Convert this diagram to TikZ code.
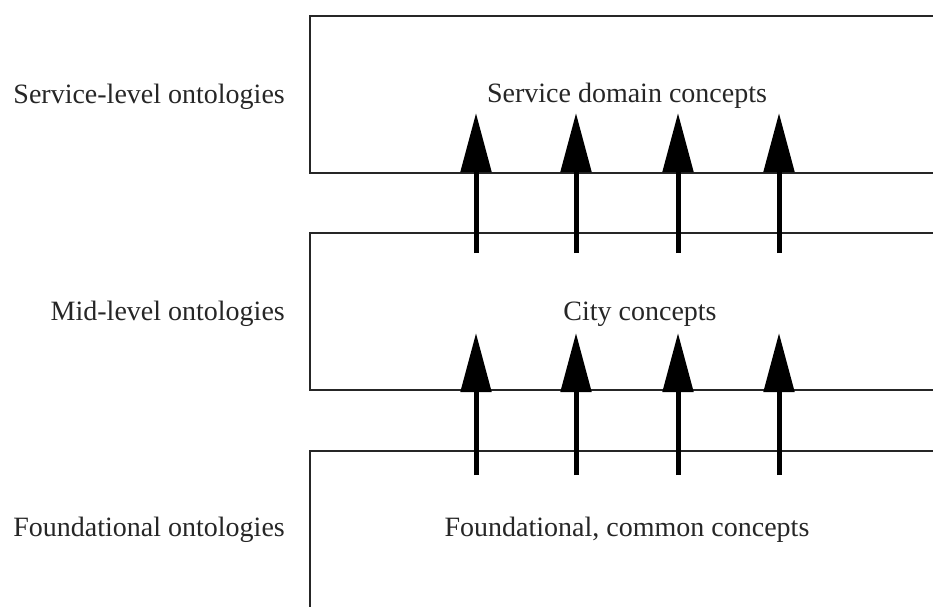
\documentclass[tikz,border=0pt]{standalone}
\usepackage{fontspec}
\setmainfont{Liberation Serif}
\usetikzlibrary{arrows.meta}
\usetikzlibrary{positioning}

\begin{document}
\begin{tikzpicture}[x=1pt, y=-1pt,
    layer/.style={draw, draw=black!85, line width=1.5pt, minimum width=636pt, minimum height=157pt, anchor=north west, inner sep=0pt},
    lbl/.style={font=\fontsize{28}{32}\selectfont, text=black!85, inner sep=0pt},
    up/.style={-{Triangle[length=59pt,width=30pt]}, line width=5pt}]
  \useasboundingbox (0,0) rectangle (933,606);

  \node [layer] (cService) at (309,15) {};
  \node [layer] (cCity) at (309,232) {};
  \node [layer] (cFound) at (309,450) {};

  \node [lbl, anchor=base east] (iSvcLevel) at (285,103) {Service-level ontologies};
  \node [lbl, anchor=base east] (iMidLevel) at (285,320) {Mid-level ontologies};
  \node [lbl, anchor=base east] (iFndLevel) at (285,536) {Foundational ontologies};

  \node [lbl, anchor=base] (iService) at (627,102) {Service domain concepts};
  \node [lbl, anchor=base] (iCity) at (640,320) {City concepts};
  \node [lbl, anchor=base] (iFound) at (627,536) {Foundational, common concepts};

  \foreach \x [count=\i] in {476,576,678,779} {
    \coordinate (a\i) at (\x,253);
    \coordinate (b\i) at (\x,113);
    \coordinate (c\i) at (\x,475);
    \coordinate (d\i) at (\x,333);
    \draw [up] (a\i) -- (b\i);
    \draw [up] (c\i) -- (d\i);
  }
\end{tikzpicture}
\end{document}
